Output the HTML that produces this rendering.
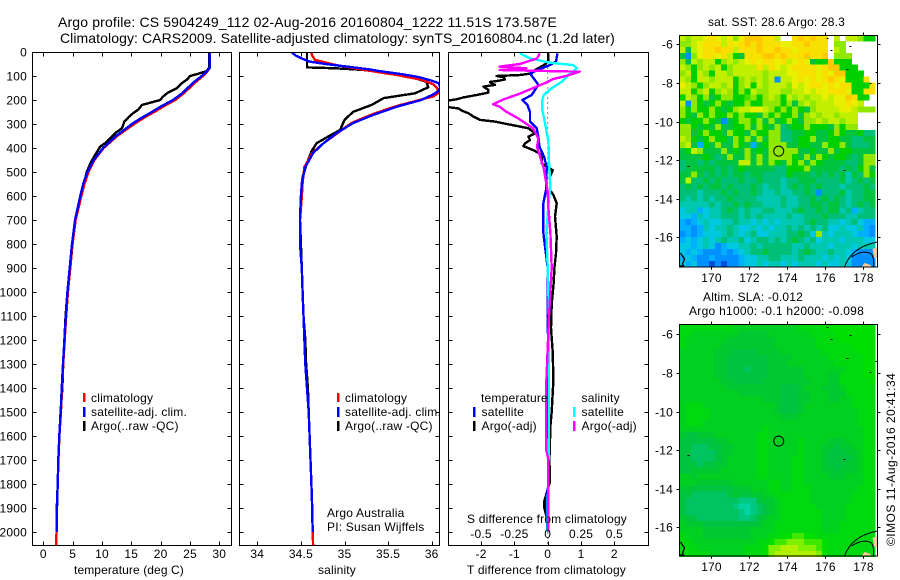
<!DOCTYPE html>
<html>
<head>
<meta charset="utf-8">
<title>Argo profile chart</title>
<style>
html,body{margin:0;padding:0;background:#fff;}
svg{display:block;}
text{font-family:"Liberation Sans",sans-serif;font-size:12px;fill:#000;letter-spacing:.2px;}
</style>
</head>
<body>
<svg id="chart" xmlns="http://www.w3.org/2000/svg" width="900" height="580" viewBox="0 0 900 580">
<defs>
<clipPath id="clip-p1"><rect x="32" y="52" width="200" height="494"/></clipPath>
<clipPath id="clip-p2"><rect x="239" y="52" width="201" height="494"/></clipPath>
<clipPath id="clip-p3"><rect x="448" y="52" width="201" height="494"/></clipPath>
</defs>
<text x="58" y="27" style="font-size:14px" textLength="499">Argo profile: CS 5904249_112 02-Aug-2016 20160804_1222 11.51S 173.587E</text>
<text x="60" y="43" style="font-size:14px" textLength="555">Climatology: CARS2009. Satellite-adjusted climatology: synTS_20160804.nc (1.2d later)</text>
<g id="layer-maps"></g>
<g id="layer-plots"></g>
<g>
<rect x="83" y="393" width="2.5" height="9" fill="#f00"/>
<rect x="83" y="407" width="2.5" height="10" fill="#00f"/>
<rect x="83" y="421" width="2.5" height="10" fill="#000"/>
<text x="91" y="402">climatology</text>
<text x="91" y="416">satellite-adj. clim.</text>
<text x="91" y="430">Argo(..raw -QC)</text>
</g>
<g>
<rect x="337" y="393" width="2.5" height="9" fill="#f00"/>
<rect x="337" y="407" width="2.5" height="10" fill="#00f"/>
<rect x="337" y="421" width="2.5" height="10" fill="#000"/>
<text x="345" y="402">climatology</text>
<text x="345" y="416">satellite-adj. clim.</text>
<text x="345" y="430">Argo(..raw -QC)</text>
<text x="327" y="517">Argo Australia</text>
<text x="327" y="531">PI: Susan Wijffels</text>
</g>
<g>
<text x="481" y="402">temperature</text>
<rect x="473" y="407" width="2.5" height="10" fill="#00f"/>
<text x="481.5" y="416">satellite</text>
<rect x="473" y="421" width="2.5" height="10" fill="#000"/>
<text x="481.5" y="430">Argo(-adj)</text>
<text x="581.5" y="402">salinity</text>
<rect x="573" y="407" width="2.5" height="10" fill="#0ff"/>
<text x="581.5" y="416">satellite</text>
<rect x="573" y="421" width="2.5" height="10" fill="#f0f"/>
<text x="581.5" y="430">Argo(-adj)</text>
</g>
<text x="74" y="574" textLength="110">temperature (deg C)</text>
<text x="318" y="574" textLength="38">salinity</text>
<text x="467" y="523" textLength="160">S difference from climatology</text>
<text x="467" y="574" textLength="159">T difference from climatology</text>
<text x="708" y="26" textLength="137">sat. SST: 28.6 Argo: 28.3</text>
<text x="703" y="301" textLength="100">Altim. SLA: -0.012</text>
<text x="689" y="315" textLength="175">Argo h1000: -0.1 h2000: -0.098</text>
<text transform="translate(895,546) rotate(-90)" textLength="173">©IMOS 11-Aug-2016 20:41:34</text>
</svg>
<script>
// ---- tick labels ----
const depthTicks = [0,100,200,300,400,500,600,700,800,900,1000,1100,1200,1300,1400,1500,1600,1700,1800,1900,2000];
const tempTicks = [0,5,10,15,20,25,30];
const salTicks = [34,34.5,35,35.5,36];
const salTickLabels = ['34','34.5','35','35.5','36'];
const tDiffTicks = [-2,-1,0,1,2];
const sDiffTicks = [-0.5,-0.25,0,0.25,0.5];
const sDiffTickLabels = ['-0.5','-0.25','0','0.25','0.5'];
const lonTicks = [170,172,174,176,178];
const latTicks = [-6,-8,-10,-12,-14,-16];

// ---- temperature profiles ----
const tempDepth = [0,30,65,80,100,125,150,175,200,225,250,275,300,350,400,450,500,550,600,700,800,900,1000,1100,1200,1300,1400,1500,1600,1700,1800,1900,2000];
const tempSatellite = [28.4,28.4,28.4,27.9,27,25.7,24.6,23.5,22.1,20.2,18.5,16.7,15.1,12.4,10.2,8.6,7.5,6.8,6.3,5.4,4.9,4.5,4.1,3.85,3.6,3.35,3.13,2.96,2.73,2.56,2.45,2.33,2.27];
const climDepth = [0,30,65,80,100,125,150,175,200,225,250,275,300,350,400,450,500,550,600,700,800,900,1000,1100,1200,1300,1400,1500,1600,1700,1800,1900,2000,2054];
const tempClim = [28.4,28.4,28.4,28,27.2,26,24.9,23.8,22.5,20.6,18.9,17.1,15.5,12.6,10.3,8.7,7.7,7,6.5,5.5,5,4.6,4.2,3.9,3.65,3.4,3.2,3,2.75,2.58,2.45,2.33,2.25,2.2];
const argoTempDepth = [0,65,80,90,100,115,130,150,170,186,200,221,240,255,270,290,305,318,335,353,375,394,410,430,460,500,550,600,700,800,900,1000,1100,1200,1300,1400,1500,1600,1700,1800,1900,1960];
const tempArgo = [28.3,28.3,27.8,26.5,25,24.5,23.6,22.8,21.2,20.4,19.9,16.8,16.2,15.3,14.6,13.8,13.6,13.4,12.4,11.7,10.8,9.7,9.3,8.8,8.1,7.4,6.9,6.4,5.5,4.9,4.5,4.1,3.8,3.6,3.4,3.25,2.95,2.72,2.56,2.45,2.3,2.28];

// ---- salinity profiles ----
const salDepth = [3,15,30,40,50,61,72,82,92,103,117,130,150,165,180,200,228,262,296,338,380,421,479,546,604,700,800,900,1000,1100,1200,1300,1400,1500,1600,1700,1800,1900,2000];
const salSatellite = [34.4,34.44,34.53,34.6,34.78,35.03,35.28,35.45,35.65,35.83,35.98,36.08,36.1,36.07,36,35.88,35.6,35.33,35.1,34.91,34.76,34.64,34.55,34.51,34.5,34.49,34.49,34.51,34.52,34.53,34.54,34.55,34.57,34.59,34.6,34.61,34.62,34.63,34.635];
const salClimDepth = [3,15,33,54,75,96,117,135,150,170,185,200,228,262,296,338,380,421,479,546,604,700,800,900,1000,1100,1200,1300,1400,1500,1600,1700,1800,1900,2000,2054];
const salClim = [34.62,34.63,34.66,34.9,35.23,35.6,35.9,36.02,36.06,36.08,36.02,35.86,35.57,35.3,35.08,34.92,34.76,34.63,34.54,34.52,34.51,34.49,34.49,34.51,34.52,34.53,34.54,34.55,34.57,34.59,34.6,34.61,34.62,34.63,34.635,34.64];
const argoSalDepth = [0,30,64,68,72,78,90,103,124,147,172,192,221,249,283,325,353,380,415,463,520,600,700,800,900,1000,1100,1200,1300,1400,1500,1600,1700,1800,1900,1960];
const salArgo = [34.57,34.57,34.57,34.9,35.1,35.33,35.55,35.75,35.94,35.96,35.81,35.45,35.31,35.1,35,34.95,34.81,34.68,34.62,34.57,34.52,34.5,34.49,34.5,34.51,34.52,34.53,34.55,34.56,34.58,34.59,34.6,34.61,34.62,34.63,34.63];

// ---- difference profiles ----
const tSatDepth = [6,40,54,68,89,117,137,158,179,200,221,249,290,318,353,394,436,478,575,630,755,900,1100,1300,1400,1600,1800,1860,1950,2000];
const tSatDiff = [0.29,0.25,0.07,-0.18,-0.53,-0.38,-0.28,-0.38,-0.48,-0.76,-0.61,-0.53,-0.53,-0.33,-0.28,-0.25,-0.11,-0.03,-0.05,-0.13,-0.13,0,0,0.02,0.02,0.02,0.02,-0.03,-0.03,0];
const tArgoDepth = [6,40,54,75,89,96,100,105,114,119,125,131,137,144,158,169,179,189,197,204,228,235,244,255,269,283,290,300,308,318,328,339,353,367,381,392,401,412,429,464,478,492,519,575,596,630,686,769,840,900,960,1050,1150,1250,1367,1420,1500,1560,1620,1700,1790,1870,1900,1940];
const tArgoDiff = [0.02,0.02,-0.11,-0.38,-0.48,-0.83,-1.53,-1.33,-1.28,-1.45,-1.73,-1.68,-1.58,-1.93,-1.78,-1.78,-2.13,-2.53,-2.73,-3.1,-3.1,-2.68,-2.58,-2.38,-2.23,-2.03,-1.58,-1.23,-0.93,-0.58,-0.48,-0.38,-0.58,-0.53,-0.68,-0.73,-0.58,-0.38,-0.18,-0.18,-0.03,0.15,0.07,0.07,0.17,0.27,0.22,0.27,0.25,0.2,0.18,0.12,0.1,0.15,0.17,0.15,0.12,0.08,0.07,0.05,0.07,-0.1,-0.1,-0.03];
const sSatDepth = [6,27,45,54,68,96,124,151,179,200,242,297,373,456,567,636,755,900,1100,1400,1600,1900,2000];
const sSatDiff = [-0.21,-0.13,0.02,0.19,0.22,0.155,0.105,0.03,-0.03,-0.04,-0.04,-0.02,0.005,0.01,0.02,0.005,-0.01,0.0,0.01,0.01,0.01,0.0,0];
const sArgoDepth = [6,27,50,61,68,75,82,99,113,127,155,176,197,218,228,249,277,318,360,394,484,581,650,755,900,1100,1367,1660,1700,2000];
const sArgoDiff = [-0.06,-0.08,-0.21,-0.36,-0.16,-0.36,0.24,0.14,0.04,-0.01,-0.13,-0.22,-0.33,-0.41,-0.36,-0.31,-0.22,-0.11,-0.07,-0.08,-0.03,0,0.005,0.02,0.03,0.01,-0.01,-0.01,0.005,0.005];

// ---- SST map grid (33 x 39), one letter per cell ----
const sstPalette = {a:'#0050e0',b:'#0090ff',c:'#00b0ff',d:'#00c8e0',e:'#00c8b0',f:'#00c078',g:'#00c440',h:'#00d000',i:'#40e000',j:'#90e800',k:'#c0f000',l:'#e8f000',m:'#f8e000',n:'#ffc800'};
const sstRows = [
"kjkklmlkljlnnnmmk..mnmnmm.k.kkjhh",
"jjklmmmkmlmnmnmmmllmmnmmm.jj.....",
"kgklmmnmmkmmmnmmnmmlmmmmm.kj.....",
"gbjlmmlmkhgmmmnnmnmmmnmmn.jjj....",
"jgkjkkhjkjklmlmmlmklmlghhnhhh....",
"kjhjkjkhjkkkkmkmlklmmmmlmnnhhh...",
"jkhkjhkkjkkkkkjkkkllmmmlmlnnhhh..",
"kjhkkjkkkhjkjkjkbkklmlmlmnmlhhhm.",
"lkjhjkkjkhjkhkjkkkjlklmmlmlmmhhhm",
"kkhjkhjkjhjhkjjkkjjkklkllmmmlhhmm",
"hkjhjghjjhhijhjkjhkjkjkklkllnmhh.",
"kbjhghjhghhjhhjjjhjgjkjkkkllmlk..",
"jhjhhjhghjkkllkjhjhjhgjkkkkllkjjj",
"jhgjhjhhjhjhhgjhjhhjgjkjkkjkkk...",
"hghhjhgbghjjhjgjghjhgjjkjkkjkk...",
"jjhghgjgghhjgjhgjfghhjhhhgjhjj...",
"jjghjhhgjhhgjhhjjffgghhgghjhgghff",
"kjhghjhhgjhjgjgjjffghhjgghhggffgg",
"jkgchgjggjhgcghjjjgghhggjhhjgfffg",
"ghkjgggjghgjghgjjjjjgghggjghhgggg",
"gggghgfgjggjgjgjjjjhgjgjhghhgfgjj",
"fggfgfggggkkgjgjhgjhjgjhggggffgjj",
"fgggggfgfghgggggffhhhjgggggfgfhjg",
"ggjgfgfgfggfggffffhgggfgfgfgegfjh",
"gkffgfgfffgffgfffeffgggffffgefgfg",
"fgfgfggfgfffgfeffefgfgfgfffefffgf",
"fffefffgfgffgfeefeeffgfbfffgeffgg",
"fefefeffgffffeeeefeeffgfgfgfeffgg",
"eeeeefeffgfgffeeefeeffggfggfefgfg",
"deecdeefgfefeeffeeefgffgfggefceff",
"ddcedeefffefefeeeefeefffgfffeefff",
"cbcdeddeefeedededeeeefgffeedefdcc",
"ccbcedeefeddededeefefefefddeddecb",
"bcbcdddefedefddeeeffgfdjedeeedccb",
"cdcdedefeefdeffefefgfefdeeedeeedd",
"ddcdedbcddeefefffffeefeeedeeedeee",
"dcdcbbbcbcdeffgffffefgfeefeedcbbb",
"cdcbbcbbbbcddeeffeeefeeedededbbbb",
"dcdbbababbcddedeededeeededdedbbbb"
];

// ---- SLA map grid (33 x 39), one digit/letter per cell ----
const slaPalette = {'1':'#00d4a0','2':'#00c880','3':'#00c460','4':'#00c440','5':'#00c830','6':'#00d020','7':'#00d810','8':'#00e000','9':'#40e800','a':'#80f000','b':'#b0f000'};
const slaRows = [
"777777777666666666667777888888888",
"776666666655555666666677778888888",
"766666665555555566666667777888888",
"766666655555555566666667777778888",
"666666555444455556666666777777888",
"666666554444444555566666677777788",
"666666554444444555666666667777788",
"666666554443444555555666666677788",
"666666554444444555555666655777788",
"666666655444445555555566655777778",
"666666665555555554445666555677777",
"666666666655555554445566655577777",
"666666666666665554445566655667777",
"677766666666666654445666666667777",
"677776666666666654445666666666777",
"677776666666666665556666666666777",
"677766666666666666666666666666777",
"666666666666667666666666666666677",
"544555666666677666666666666666677",
"444444556666677666667666655566677",
"443334455666677666667666554556677",
"443333455666677666667666544455677",
"443333456666677666677666544445677",
"444344556666677666677666544455677",
"445555566666677666677666554555677",
"665666666666677666677666655566677",
"666555555666666776677666666666677",
"554444444555666776677766666666777",
"443333334544556677777766666667777",
"433333333322245567777766666667777",
"433333333211234567777776666677777",
"433333333321234567777777666677777",
"544333333322345667777777666677777",
"655544444444456677777777666777777",
"666655555555666677777777666777777",
"766655555555666778899887777777777",
"776666666666677899aaa999877777777",
"777666666667778aabbbaaa9877777777",
"777776666667778abbbbbbba877777777"
];

// ---- float position ----
const floatLon = [173.58];
const floatLat = [-11.51];

const NS = 'http://www.w3.org/2000/svg';
const plots = document.getElementById('layer-plots');
const maps = document.getElementById('layer-maps');

function make(tag, parent, attrs) {
  const el = document.createElementNS(NS, tag);
  for (const k in attrs) el.setAttribute(k, attrs[k]);
  parent.appendChild(el);
  return el;
}

const yDepth = d => 52 + d * 0.24;
const xTemp = t => 43.3 + t * 5.867;
const xSal = s => 257.3 + (s - 34) * 87.2;
const xTDiff = t => 547.7 + t * 33.33;
const xSDiff = s => 547.7 + s * 133.33;

const panelTop = 52.5, panelBottom = 545.5;

function drawFrame(name, left, right, xTicks, xScale) {
  const g = make('g', plots, {});
  
  
  const frame = make('rect', g, {x: left, y: panelTop, width: right - left, height: panelBottom - panelTop, fill: 'none', stroke: '#000', 'stroke-width': 1});
  
  
  depthTicks.forEach(d => {
    const y = Math.round(yDepth(d)) + 0.5;
    const t1 = make('path', g, {d: `M${left} ${y}h4M${right} ${y}h-4`, stroke: '#000', fill: 'none', 'stroke-width': 1});
    
    
  });
  xTicks.forEach(v => {
    const x = Math.round(xScale(v)) + 0.5;
    const t2 = make('path', g, {d: `M${x} ${panelTop}v4M${x} ${panelBottom}v-4`, stroke: '#000', fill: 'none', 'stroke-width': 1});
    
    
  });
}

function drawSeries(name, depths, values, xScale, color, clip) {
  const pts = values.map((v, i) => xScale(v).toFixed(1) + ',' + yDepth(depths[i]).toFixed(1)).join(' ');
  const line = make('polyline', plots, {points: pts, fill: 'none', stroke: color, 'stroke-width': 2.4, 'stroke-linejoin': 'round', 'shape-rendering': 'crispEdges', 'clip-path': 'url(#' + clip + ')'});
  
  
}

function drawLabel(name, str, x, y, anchor) {
  const t = make('text', plots, {x: x, y: y, 'text-anchor': anchor});
  t.textContent = str;
  
  
}

// Panel 1: temperature
drawSeries('argo-temperature-line', argoTempDepth, tempArgo, xTemp, '#000', 'clip-p1');
drawSeries('climatology-temperature-line', climDepth, tempClim, xTemp, '#f00', 'clip-p1');
drawSeries('satellite-temperature-line', tempDepth, tempSatellite, xTemp, '#00f', 'clip-p1');
drawFrame('temperature-panel', 32.5, 231.5, tempTicks, xTemp);
depthTicks.forEach(d => drawLabel('depth-tick-label', String(d), 27, yDepth(d) + 4.3, 'end'));
tempTicks.forEach(t => drawLabel('temperature-tick-label', String(t), xTemp(t), 558, 'middle'));

// Panel 2: salinity
drawSeries('argo-salinity-line', argoSalDepth, salArgo, xSal, '#000', 'clip-p2');
drawSeries('climatology-salinity-line', salClimDepth, salClim, xSal, '#f00', 'clip-p2');
drawSeries('satellite-salinity-line', salDepth, salSatellite, xSal, '#00f', 'clip-p2');
drawFrame('salinity-panel', 239.5, 439.5, salTicks, xSal);
salTicks.forEach((s, i) => drawLabel('salinity-tick-label', salTickLabels[i], xSal(s), 558, 'middle'));

// Panel 3: differences
const zeroLine = make('line', plots, {x1: xTDiff(0), x2: xTDiff(0), y1: panelTop, y2: panelBottom, stroke: '#000', 'stroke-width': 1, 'stroke-dasharray': '1 4'});


drawSeries('t-argo-difference-line', tArgoDepth, tArgoDiff, xTDiff, '#000', 'clip-p3');
drawSeries('t-satellite-difference-line', tSatDepth, tSatDiff, xTDiff, '#00f', 'clip-p3');
drawSeries('s-satellite-difference-line', sSatDepth, sSatDiff, xSDiff, '#0ff', 'clip-p3');
drawSeries('s-argo-difference-line', sArgoDepth, sArgoDiff, xSDiff, '#f0f', 'clip-p3');
drawFrame('difference-panel', 448.5, 648.5, tDiffTicks, xTDiff);
tDiffTicks.forEach(t => drawLabel('t-difference-tick-label', String(t), xTDiff(t), 558, 'middle'));
sDiffTicks.forEach((s, i) => drawLabel('s-difference-tick-label', sDiffTickLabels[i], xSDiff(s), 538, 'middle'));

// Maps
const lonScale = lon => 710.7 + (lon - 170) * 19;
const DLON = 0.3126, DLAT = 0.3078, LON0 = 168.35, LAT0 = -5.52;
const coastDots = [[147,3],[151,15],[170,11],[167,34],[190,48],[196,37],[8,131],[164,135]];

function drawMap(name, top, y6, rows, palette) {
  const latScale = lat => y6 + (-6 - lat) * 19.3;
  const g = make('g', maps, {'shape-rendering': 'crispEdges'});
  
  
  rows.forEach((row, r) => {
    for (let c = 0; c < row.length; c++) {
      const col = palette[row[c]];
      if (!col) continue;
      const x0 = lonScale(LON0 + c * DLON), x1 = lonScale(LON0 + (c + 1) * DLON);
      const y0 = latScale(LAT0 - r * DLAT), y1 = latScale(LAT0 - (r + 1) * DLAT);
      const cell = make('rect', g, {x: x0.toFixed(2), y: y0.toFixed(2), width: (x1 - x0 + 0.3).toFixed(2), height: (y1 - y0 + 0.3).toFixed(2), fill: col});
      
      
    }
  });
  const left = 679.5, right = 877.5, bottom = top + 231.7;
  const coast = make('g', maps, {transform: `translate(${left} ${top})`});
  
  
  const land1 = make('path', coast, {d: 'M193 214l5 -2v11h-3zM182 232l3 -4l6 2l1 2z', fill: '#ffcc99'});
  
  
  const arcs = make('path', coast, {d: 'M165 232Q172 212 198 207M172 222Q184 214 192 219Q195 224 194 232', fill: 'none', stroke: '#000', 'stroke-width': 1});
  
  
  const left1 = make('path', coast, {d: 'M1 218L5 224L3 229L4 231H0', fill: 'none', stroke: '#000', 'stroke-width': 1.3});
  
  
  coastDots.forEach(p => {
    const dot = make('rect', coast, {x: p[0], y: p[1], width: 2, height: 1, fill: '#000'});
    
    
  });
  const frame = make('rect', maps, {x: left, y: top + 0.5, width: right - left, height: 231.5, fill: 'none', stroke: '#000', 'stroke-width': 1});
  
  
  lonTicks.forEach(lon => {
    const x = Math.round(lonScale(lon)) + 0.5;
    const tick = make('path', maps, {d: `M${x} ${top + 0.5}v-3M${x} ${bottom}v3`, stroke: '#000', fill: 'none'});
    
    
    const lab = make('text', maps, {x: x, y: bottom + 15.5, 'text-anchor': 'middle'});
    lab.textContent = String(lon);
    
    
  });
  latTicks.forEach(lat => {
    const y = Math.round(latScale(lat)) + 0.5;
    const tick = make('path', maps, {d: `M${left} ${y}h-3M${right} ${y}h3`, stroke: '#000', fill: 'none'});
    
    
    const lab = make('text', maps, {x: 673, y: y + 4, 'text-anchor': 'end'});
    lab.textContent = String(lat);
    
    
  });
  const marker = make('circle', maps, {cx: lonScale(floatLon[0]), cy: latScale(floatLat[0]) + 0.5, r: 5, fill: 'none', stroke: '#000', 'stroke-width': 1});
  
  
}

drawMap('sst-map', 35, 44.3, sstRows, sstPalette);
drawMap('sla-map', 324, 334.3, slaRows, slaPalette);
</script>
</body>
</html>
